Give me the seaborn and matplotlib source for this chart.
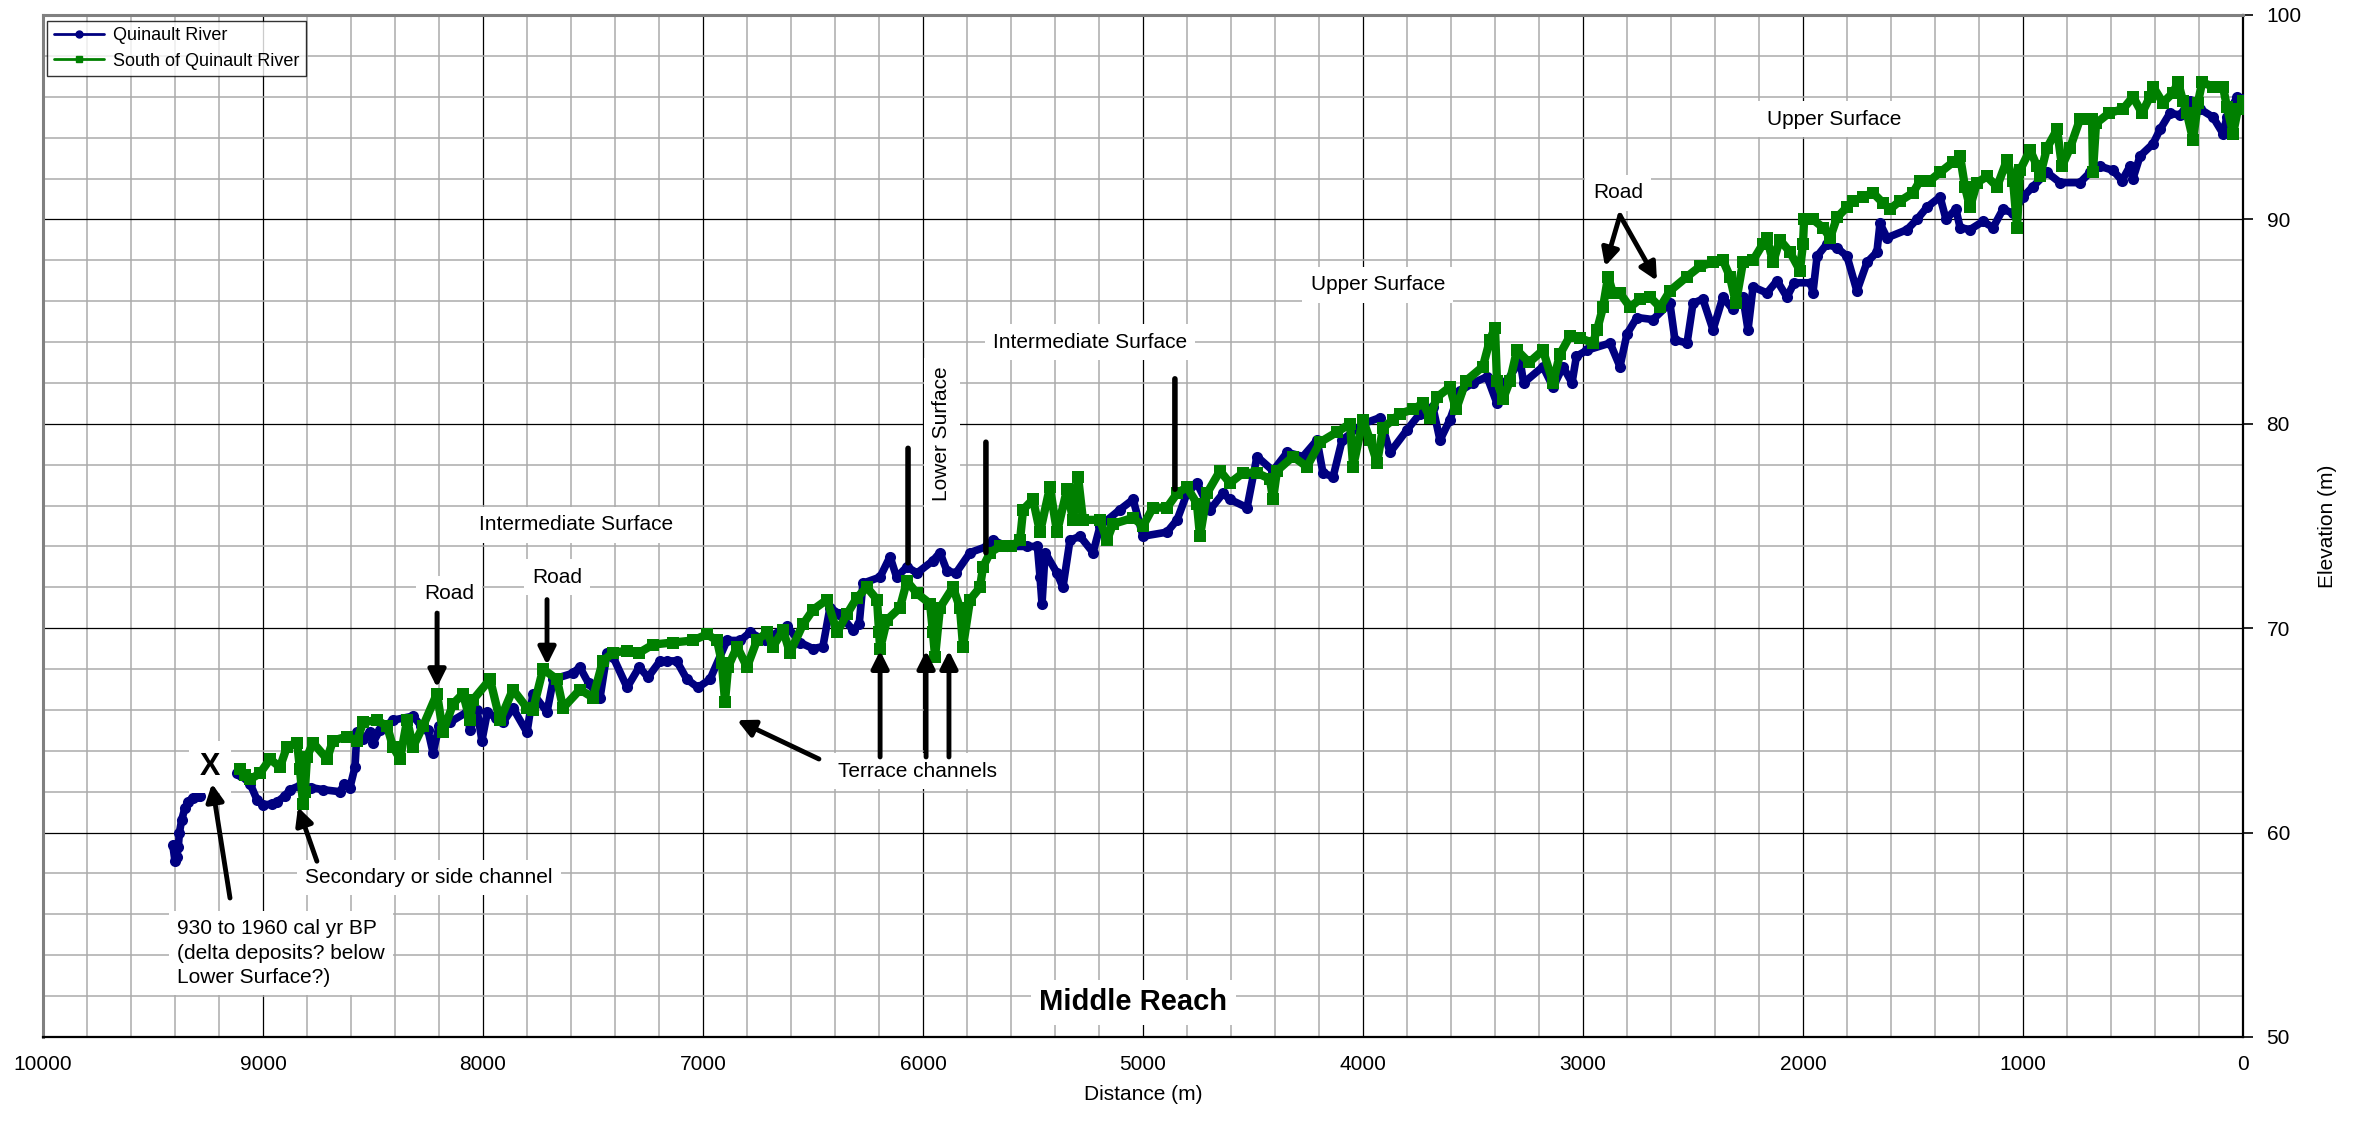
import matplotlib
matplotlib.use("Agg")
import matplotlib.pyplot as plt
from matplotlib.lines import Line2D
from matplotlib.ticker import MultipleLocator
import numpy as np
import pandas as pd
import seaborn as sns

# ---- Longitudinal profile data: distance (m) and elevation (m) ----
quinault_d_1 = [9410, 9400, 9392, 9385, 9380, 9370, 9355, 9340, 9320, 9300, 9286]
quinault_e_1 = [59.4, 58.6, 58.8, 59.3, 60.0, 60.6, 61.2, 61.5, 61.7, 61.8, 61.8]

quinault_d_2 = [9118, 9100, 9059, 9027, 9000, 8960, 8936, 8900, 8877, 8832, 8780, 8727,
                8650, 8630, 8605, 8582, 8573, 8545, 8514, 8500, 8470, 8409, 8318, 8280,
                8250, 8227, 8200, 8150, 8073, 8059, 8027, 8005, 7980, 7940, 7909, 7864,
                7800, 7773, 7709, 7680, 7591, 7560, 7520, 7468, 7436, 7409, 7345, 7290,
                7250, 7195, 7164, 7120, 7073, 7023, 6968, 6891, 6830, 6786, 6720, 6618,
                6559, 6500, 6455, 6423, 6380, 6318, 6290, 6273, 6195, 6150, 6120, 6073,
                6027, 5955, 5923, 5891, 5850, 5786, 5709, 5680, 5618, 5527, 5480, 5468,
                5459, 5445, 5391, 5364, 5332, 5286, 5227, 5195, 5105, 5045, 5000, 4891,
                4845, 4800, 4755, 4695, 4636, 4605, 4527, 4482, 4409, 4345, 4273, 4209,
                4182, 4136, 4095, 4000, 3923, 3877, 3800, 3741, 3682, 3650, 3605, 3559,
                3500, 3436, 3391, 3345, 3286, 3270, 3182, 3136, 3091, 3050, 3030, 2982,
                2877, 2832, 2800, 2755, 2682, 2605, 2582, 2527, 2500, 2455, 2409, 2364,
                2320, 2273, 2250, 2227, 2164, 2118, 2073, 2040, 1964, 1955, 1936, 1891,
                1845, 1800, 1755, 1709, 1664, 1650, 1618, 1527, 1482, 1436, 1377, 1350,
                1305, 1286, 1241, 1182, 1136, 1091, 1045, 1000, 955, 891, 832, 741,
                695, 650, 591, 550, 514, 500, 468, 409, 377, 332, 286, 241,
                195, 136, 91, 73, 27, 0]
quinault_e_2 = [62.9, 62.8, 62.4, 61.6, 61.35, 61.4, 61.5, 61.8, 62.1, 62.3, 62.2, 62.1,
                62.0, 62.4, 62.2, 63.2, 64.9, 64.6, 64.9, 64.4, 65.0, 65.5, 65.7, 65.2,
                65.0, 63.9, 65.2, 65.4, 65.9, 65.0, 66.0, 64.5, 65.9, 65.6, 65.4, 66.1,
                64.9, 66.8, 65.9, 67.5, 67.8, 68.1, 67.3, 66.6, 68.8, 68.6, 67.1, 68.1,
                67.6, 68.4, 68.4, 68.4, 67.5, 67.1, 67.5, 69.4, 69.4, 69.8, 69.4, 70.1,
                69.3, 69.0, 69.1, 71.0, 70.7, 69.9, 70.2, 72.2, 72.5, 73.5, 72.5, 73.0,
                72.7, 73.3, 73.7, 72.8, 72.7, 73.7, 74.0, 74.3, 74.0, 74.0, 74.0, 72.5,
                71.2, 73.7, 72.7, 72.0, 74.3, 74.5, 73.7, 75.0, 75.8, 76.3, 74.5, 74.7,
                75.3, 76.6, 77.1, 75.8, 76.6, 76.3, 75.9, 78.4, 77.7, 78.6, 78.4, 79.2,
                77.6, 77.4, 79.2, 80.0, 80.3, 78.6, 79.7, 80.5, 80.8, 79.2, 80.2, 81.6,
                82.0, 82.3, 81.0, 82.1, 83.1, 82.0, 82.8, 81.8, 82.8, 82.0, 83.3, 83.6,
                83.95, 82.8, 84.4, 85.2, 85.1, 85.9, 84.1, 83.95, 85.9, 86.1, 84.6, 86.2,
                85.6, 86.2, 84.6, 86.7, 86.4, 87.0, 86.2, 86.9, 86.9, 86.4, 88.2, 88.8,
                88.6, 88.2, 86.5, 87.9, 88.4, 89.8, 89.1, 89.5, 90.0, 90.6, 91.1, 90.0,
                90.5, 89.6, 89.5, 89.9, 89.6, 90.5, 90.3, 91.1, 91.6, 92.3, 91.8, 91.8,
                92.3, 92.6, 92.4, 91.9, 92.6, 92.0, 93.1, 93.7, 94.4, 95.2, 95.1, 95.8,
                95.4, 95.0, 94.2, 95.0, 96.0, 95.9]

south_d = [9105, 9080, 9059, 9014, 8968, 8923, 8891, 8845, 8832, 8818, 8810, 8800,
           8773, 8709, 8682, 8618, 8573, 8545, 8482, 8436, 8409, 8377, 8345, 8318,
           8273, 8209, 8182, 8136, 8091, 8059, 8045, 7968, 7923, 7864, 7800, 7773,
           7727, 7664, 7636, 7559, 7500, 7455, 7409, 7345, 7290, 7227, 7136, 7045,
           6982, 6936, 6914, 6900, 6886, 6845, 6800, 6755, 6709, 6682, 6636, 6605,
           6545, 6500, 6436, 6391, 6345, 6300, 6255, 6209, 6200, 6195, 6164, 6105,
           6073, 6027, 5968, 5955, 5945, 5923, 5864, 5832, 5818, 5786, 5741, 5727,
           5695, 5650, 5600, 5559, 5545, 5500, 5468, 5423, 5391, 5345, 5318, 5295,
           5273, 5195, 5164, 5136, 5045, 5000, 4955, 4891, 4845, 4800, 4755, 4741,
           4709, 4650, 4605, 4545, 4482, 4423, 4409, 4391, 4318, 4255, 4195, 4118,
           4059, 4045, 4000, 3968, 3936, 3909, 3864, 3832, 3773, 3727, 3695, 3664,
           3605, 3577, 3532, 3455, 3423, 3400, 3391, 3364, 3332, 3300, 3245, 3182,
           3136, 3105, 3059, 3014, 2955, 2936, 2909, 2886, 2864, 2832, 2786, 2741,
           2695, 2650, 2605, 2527, 2468, 2409, 2364, 2332, 2305, 2273, 2227, 2182,
           2164, 2136, 2105, 2059, 2014, 2000, 1995, 1955, 1909, 1877, 1845, 1800,
           1773, 1727, 1682, 1636, 1605, 1559, 1500, 1468, 1423, 1377, 1318, 1286,
           1264, 1241, 1209, 1164, 1118, 1073, 1045, 1027, 1014, 968, 936, 923,
           891, 845, 823, 786, 741, 686, 682, 668, 609, 545, 500, 459,
           423, 409, 364, 318, 295, 273, 255, 227, 205, 186, 136, 91,
           73, 45, 23, 0]
south_e = [63.1, 62.8, 62.6, 62.9, 63.6, 63.2, 64.2, 64.4, 63.1, 61.4, 62.0, 63.7,
           64.4, 63.6, 64.5, 64.7, 64.5, 65.4, 65.5, 65.2, 64.2, 63.6, 65.5, 64.2,
           65.2, 66.8, 64.9, 66.3, 66.8, 65.5, 66.5, 67.5, 65.5, 67.0, 66.1, 66.0,
           68.0, 67.5, 66.1, 67.0, 66.6, 68.4, 68.8, 68.9, 68.8, 69.2, 69.3, 69.4,
           69.7, 69.4, 68.3, 66.4, 68.1, 69.1, 68.1, 69.4, 69.8, 69.1, 69.9, 68.8,
           70.2, 70.9, 71.4, 69.8, 70.7, 71.5, 72.0, 71.4, 69.8, 69.0, 70.4, 71.0,
           72.3, 71.7, 71.2, 69.8, 68.6, 71.0, 72.0, 71.0, 69.1, 71.4, 72.0, 73.0,
           73.7, 74.0, 74.0, 74.3, 75.8, 76.3, 74.7, 76.9, 74.7, 76.8, 75.3, 77.4,
           75.3, 75.3, 74.3, 75.1, 75.4, 75.0, 75.9, 75.9, 76.6, 76.9, 76.1, 74.5,
           76.6, 77.7, 77.1, 77.6, 77.6, 77.3, 76.3, 77.7, 78.4, 77.9, 79.1, 79.6,
           80.0, 77.9, 80.2, 79.2, 78.1, 79.8, 80.2, 80.5, 80.7, 81.0, 80.3, 81.3,
           81.8, 80.7, 82.1, 82.8, 84.1, 84.7, 82.1, 81.2, 82.1, 83.6, 83.0, 83.6,
           82.0, 83.4, 84.3, 84.2, 83.95, 84.6, 85.7, 87.2, 86.4, 86.4, 85.7, 86.1,
           86.2, 85.7, 86.5, 87.2, 87.7, 87.9, 88.0, 87.2, 85.9, 87.9, 88.0, 88.8,
           89.1, 87.9, 89.0, 88.4, 87.5, 88.8, 90.0, 90.0, 89.6, 89.1, 90.1, 90.6,
           90.9, 91.1, 91.3, 90.8, 90.5, 90.9, 91.3, 91.9, 91.9, 92.3, 92.8, 93.1,
           91.6, 90.6, 91.8, 92.1, 91.6, 92.9, 91.9, 89.6, 92.4, 93.4, 92.6, 92.1,
           93.5, 94.4, 92.6, 93.5, 94.9, 94.9, 92.3, 94.7, 95.2, 95.4, 96.0, 95.2,
           96.0, 96.5, 95.7, 96.2, 96.7, 95.8, 95.2, 93.9, 95.7, 96.7, 96.5, 96.5,
           95.5, 94.2, 95.4, 95.8]

series_names = ["Quinault River", "South of Quinault River"]
series_colors = ["#000080", "#008000"]

x_ticks = list(range(0, 10001, 1000))
y_ticks = list(range(50, 101, 10))

# ---- Tidy frames for seaborn ----
quinault = pd.DataFrame({
    "distance": quinault_d_1 + quinault_d_2,
    "elevation": quinault_e_1 + quinault_e_2,
    "segment": [1] * len(quinault_d_1) + [2] * len(quinault_d_2),
})
south = pd.DataFrame({"distance": south_d, "elevation": south_e, "segment": 1})

sns.set_style("white")
plt.rcParams["font.family"] = ["Liberation Sans", "DejaVu Sans"]
for key in ("text.color", "axes.labelcolor", "xtick.color", "ytick.color"):
    plt.rcParams[key] = "black"

fig = plt.figure(figsize=(23.57, 11.23), dpi=100)
ax = fig.add_axes([43 / 2357, 1 - 1037 / 1123, 2200 / 2357, 1022 / 1123])

sns.lineplot(data=quinault, x="distance", y="elevation", units="segment",
             estimator=None, sort=False, color=series_colors[0], linewidth=5.5,
             marker="o", markersize=8, markeredgewidth=0, legend=False, ax=ax,
             zorder=3)
sns.lineplot(data=south, x="distance", y="elevation", units="segment",
             estimator=None, sort=False, color=series_colors[1], linewidth=6,
             marker="s", markersize=8, markeredgewidth=0, legend=False, ax=ax,
             zorder=4)

# ---- Axes, ticks and grid ----
ax.set_xlim(10000, 0)
ax.set_ylim(50, 100)
ax.set_xticks(x_ticks)
ax.set_yticks(y_ticks)
ax.xaxis.set_minor_locator(MultipleLocator(200))
ax.yaxis.set_minor_locator(MultipleLocator(2))
ax.set_axisbelow(True)
ax.grid(which="minor", color="#ababab", linewidth=1.1)
ax.grid(which="major", color="black", linewidth=0.9)

ax.yaxis.tick_right()
ax.yaxis.set_label_position("right")
ax.tick_params(axis="both", which="major", direction="out", length=7,
               width=1.2, color="black", labelsize=15, pad=6)
ax.tick_params(axis="y", which="major", pad=10)
ax.tick_params(which="minor", length=0)

for side in ("top", "left"):
    ax.spines[side].set_color("#808080")
    ax.spines[side].set_linewidth(2.2)
for side in ("right", "bottom"):
    ax.spines[side].set_color("black")
    ax.spines[side].set_linewidth(1.6)

ax.set_xlabel("Distance (m)", fontsize=15, labelpad=8)
ax.set_ylabel("Elevation (m)", fontsize=15, rotation=90)
ax.yaxis.set_label_coords(1.034, 0.5)

# ---- Legend ----
handles = [
    Line2D([], [], color=series_colors[0], marker="o", markersize=5, linewidth=2),
    Line2D([], [], color=series_colors[1], marker="s", markersize=5, linewidth=2),
]
leg = ax.legend(handles, series_names, loc="upper left",
                bbox_to_anchor=(0.002, 0.994), borderaxespad=0, fontsize=13,
                frameon=True, fancybox=False, edgecolor="black",
                handlelength=2.8, handletextpad=0.5, borderpad=0.35,
                labelspacing=0.45)
leg.get_frame().set_linewidth(1.0)
leg.set_zorder(10)

# ---- Annotations ----
box = dict(facecolor="white", edgecolor="none", pad=6)
arrow = dict(arrowstyle="-|>", color="black", lw=3.5, mutation_scale=26,
             shrinkA=0, shrinkB=0)
bar = dict(arrowstyle="-", color="black", lw=4, shrinkA=0, shrinkB=0)
tfont = dict(fontsize=15, zorder=6, bbox=box)

ax.text(9241, 63.2, "X", fontsize=22, fontweight="bold", ha="center",
        va="center", zorder=6, bbox=dict(facecolor="white", edgecolor="none", pad=8))
ax.annotate("", xy=(9232, 62.4), xytext=(9150, 56.8), arrowprops=arrow, zorder=7)
ax.text(9391, 54.1, "930 to 1960 cal yr BP\n(delta deposits? below\nLower Surface?)",
        ha="left", va="center", linespacing=1.35, **tfont)

ax.text(8809, 57.8, "Secondary or side channel", ha="left", va="center", **tfont)
ax.annotate("", xy=(8841, 61.25), xytext=(8755, 58.6), arrowprops=arrow, zorder=7)

ax.text(8155, 71.7, "Road", ha="center", va="center", **tfont)
ax.annotate("", xy=(8209, 67.1), xytext=(8209, 70.74), arrowprops=arrow, zorder=7)
ax.text(7664, 72.5, "Road", ha="center", va="center", **tfont)
ax.annotate("", xy=(7709, 68.2), xytext=(7709, 71.4), arrowprops=arrow, zorder=7)

ax.text(7577, 75.05, "Intermediate Surface", ha="center", va="center", **tfont)

ax.text(6027, 63.0, "Terrace channels", ha="center", va="center", **tfont)
ax.annotate("", xy=(6845, 65.5), xytext=(6473, 63.6), arrowprops=arrow, zorder=7)
for xd in (6195, 5986, 5882):
    ax.annotate("", xy=(xd, 68.9), xytext=(xd, 63.7), arrowprops=arrow, zorder=7)

ax.text(5914, 79.5, "Lower Surface", ha="center", va="center", rotation=90, **tfont)
ax.annotate("", xy=(6068, 73.2), xytext=(6068, 78.8), arrowprops=bar, zorder=7)
ax.annotate("", xy=(5714, 73.7), xytext=(5714, 79.1), arrowprops=bar, zorder=7)

ax.text(5241, 84.0, "Intermediate Surface", ha="center", va="center", **tfont)
ax.annotate("", xy=(4855, 76.8), xytext=(4855, 82.2), arrowprops=bar, zorder=7)

ax.text(3932, 86.8, "Upper Surface", ha="center", va="center", **tfont)

ax.text(2841, 91.3, "Road", ha="center", va="center", **tfont)
ax.annotate("", xy=(2900, 87.7), xytext=(2832, 90.2), arrowprops=arrow, zorder=7)
ax.annotate("", xy=(2664, 87.0), xytext=(2832, 90.2), arrowprops=arrow, zorder=7)

ax.text(1859, 94.9, "Upper Surface", ha="center", va="center", **tfont)

ax.text(5045, 51.7, "Middle Reach", ha="center", va="center", fontsize=21,
        fontweight="bold", zorder=6, bbox=box)

fig.savefig("out.png", dpi=100)
